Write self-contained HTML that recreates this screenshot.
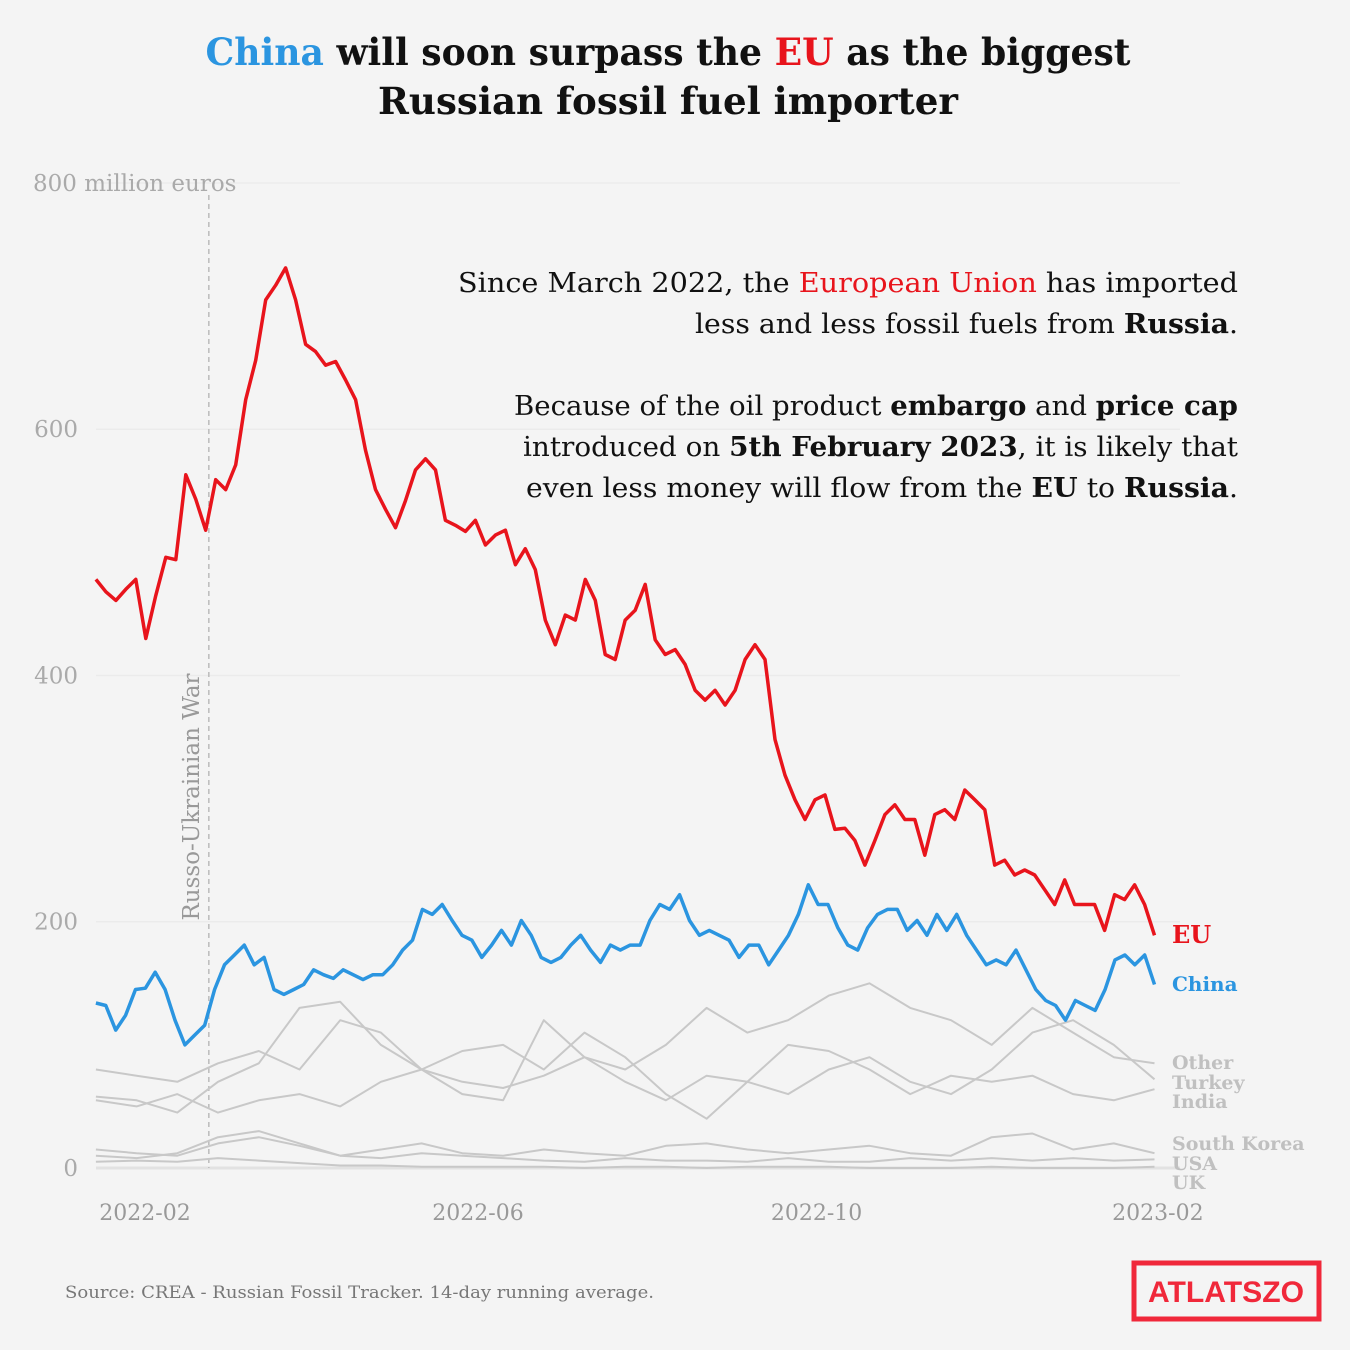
<!DOCTYPE html>
<html><head><meta charset="utf-8">
<style>
html,body{margin:0;padding:0;background:#f4f4f4;}
svg{display:block;font-family:"DejaVu Serif","Liberation Serif",serif;}
</style></head>
<body>
<svg id="chart" width="1350" height="1350" viewBox="0 0 1350 1350">
<rect width="1350" height="1350" fill="#f4f4f4"/>
<text x="668" y="65" text-anchor="middle" font-size="37" font-weight="bold" fill="#111" textLength="925" lengthAdjust="spacingAndGlyphs"><tspan fill="#2b95e0">China</tspan> will soon surpass the <tspan fill="#e8141c">EU</tspan> as the biggest</text>
<text x="668" y="114" text-anchor="middle" font-size="37" font-weight="bold" fill="#111" textLength="580" lengthAdjust="spacingAndGlyphs">Russian fossil fuel importer</text>
<g id="grid"></g>
<g id="yticks"></g>
<g id="xticks"></g>
<line id="warline" stroke="#bbb" stroke-width="1.5" stroke-dasharray="5,4"/>
<text id="warlabel" font-size="23" fill="#999" text-anchor="middle">Russo-Ukrainian War</text>
<g id="series"></g>
<g id="labels"></g>
<g font-size="27" fill="#111" text-anchor="end">
<text x="1238" y="292" textLength="780" lengthAdjust="spacingAndGlyphs">Since March 2022, the <tspan fill="#e8141c">European Union</tspan> has imported</text>
<text x="1238" y="333" textLength="543" lengthAdjust="spacingAndGlyphs">less and less fossil fuels from <tspan font-weight="bold">Russia</tspan>.</text>
<text x="1238" y="415" textLength="724" lengthAdjust="spacingAndGlyphs">Because of the oil product <tspan font-weight="bold">embargo</tspan> and <tspan font-weight="bold">price cap</tspan></text>
<text x="1238" y="456" textLength="715" lengthAdjust="spacingAndGlyphs">introduced on <tspan font-weight="bold">5th February 2023</tspan>, it is likely that</text>
<text x="1238" y="497" textLength="712" lengthAdjust="spacingAndGlyphs">even less money will flow from the <tspan font-weight="bold">EU</tspan> to <tspan font-weight="bold">Russia</tspan>.</text>
</g>
<text x="65" y="1298" font-size="17" fill="#777" textLength="589" lengthAdjust="spacingAndGlyphs">Source: CREA - Russian Fossil Tracker. 14-day running average.</text>
<g>
<rect x="1134" y="1263" width="185" height="56" fill="none" stroke="#f0283a" stroke-width="5"/>
<text x="1226" y="1302" text-anchor="middle" font-family="'Liberation Sans',sans-serif" font-weight="bold" font-size="30" fill="#f0283a" textLength="156" lengthAdjust="spacingAndGlyphs">ATLATSZO</text>
</g>
</svg>
<script>
const yTicks=[0,200,400,600,800];
const xTickLabels=["2022-02","2022-06","2022-10","2023-02"];
const xTickDays=[0,120,242,365];
const warDay=23;
const startDay=-17.7;
const stepDay=3.6;
const euValues=[478,468,461,470,478,430,465,496,494,563,543,518,559,551,571,624,656,705,717,731,705,669,663,652,655,640,624,583,551,535,520,542,567,576,567,526,522,517,526,506,514,518,490,503,486,445,425,449,445,478,461,417,413,445,453,474,429,417,421,409,388,380,388,376,388,413,425,413,348,319,299,283,299,303,275,276,266,246,266,287,295,283,283,254,287,291,283,307,299,291,246,250,238,242,238,226,214,234,214,214,214,193,222,218,230,214,189];
const chinaValues=[134,132,112,124,145,146,159,145,120,100,108,116,145,165,173,181,165,171,145,141,145,149,161,157,154,161,157,153,157,157,165,177,185,210,206,214,201,189,185,171,181,193,181,201,189,171,167,171,181,189,177,167,181,177,181,181,201,214,210,222,201,189,193,189,185,171,181,181,165,177,189,206,230,214,214,195,181,177,195,206,210,210,193,201,189,206,193,206,189,177,165,169,165,177,161,145,136,132,120,136,132,128,145,169,173,165,173,149];
const otherValues=[80,75,70,85,95,80,120,110,80,70,65,75,90,80,100,130,110,120,140,150,130,120,100,130,110,90,85];
const turkeyValues=[58,55,45,70,85,130,135,100,80,60,55,120,90,70,55,75,70,60,80,90,70,60,80,110,120,100,72];
const indiaValues=[55,50,60,45,55,60,50,70,80,95,100,80,110,90,60,40,70,100,95,80,60,75,70,75,60,55,64];
const koreaValues=[15,12,10,20,25,18,10,15,20,12,10,15,12,10,18,20,15,12,15,18,12,10,25,28,15,20,12];
const usaValues=[10,8,12,25,30,20,10,8,12,10,8,6,5,8,6,6,5,8,5,5,8,6,8,6,8,6,7];
const ukValues=[5,6,5,8,6,4,2,2,1,1,1,1,0,1,1,0,1,1,1,0,0,0,1,0,0,0,1];

const NS="http://www.w3.org/2000/svg";
function yScale(v){return 1168-v*1.2313;}
function xScale(d){return 145+d*2.775;}
function mk(tag,attrs,parent){const e=document.createElementNS(NS,tag);for(const k in attrs)e.setAttribute(k,attrs[k]);parent.appendChild(e);return e;}
const grid=document.getElementById('grid'),yt=document.getElementById('yticks'),xt=document.getElementById('xticks');
yTicks.forEach((v,i)=>{
  const l=mk('line',{x1:96,x2:1180,y1:yScale(v),y2:yScale(v),stroke:v===0?'#e2e2e2':'#ebebeb','stroke-width':v===0?3:1.5},grid);
  
  
  const t=mk('text',{x:v===800?33:78,y:yScale(v)+8,'font-size':23,fill:'#aaa','text-anchor':v===800?'start':'end'},yt);
  t.textContent=v===800?'800 million euros':String(v);
  
  
});
xTickLabels.forEach((s,i)=>{
  const t=mk('text',{x:xScale(xTickDays[i]),y:1220,'font-size':22,fill:'#999','text-anchor':'middle'},xt);
  t.textContent=s;
  
  
});
const wl=document.getElementById('warline');
wl.setAttribute('x1',xScale(warDay));wl.setAttribute('x2',xScale(warDay));wl.setAttribute('y1',195);wl.setAttribute('y2',1168);
const wt=document.getElementById('warlabel');
wt.setAttribute('transform','translate('+(xScale(warDay)-10)+',797) rotate(-90)');
const ser=document.getElementById('series');
function drawLine(vals,color,w,name){
  const step=381.5/(vals.length-1);
  const pts=vals.map((v,i)=>xScale(startDay+i*step).toFixed(1)+','+yScale(v).toFixed(1)).join(' ');
  const p=mk('polyline',{points:pts,fill:'none',stroke:color,'stroke-width':w,'stroke-linejoin':'round'},ser);
  
  
}
drawLine(ukValues,'#c8c8c8',2,'line-uk');
drawLine(usaValues,'#c8c8c8',2,'line-usa');
drawLine(koreaValues,'#c8c8c8',2,'line-south-korea');
drawLine(indiaValues,'#c8c8c8',2,'line-india');
drawLine(turkeyValues,'#c8c8c8',2,'line-turkey');
drawLine(otherValues,'#c8c8c8',2,'line-other');
drawLine(chinaValues,'#2b95e0',3.5,'line-china');
drawLine(euValues,'#e8141c',3.5,'line-eu');
const lab=document.getElementById('labels');
const labs=[["EU",943,'#e8141c',24,'bold'],["China",991,'#2b95e0',20,'bold'],["Other",1069,'#c0c0c0',19,'bold'],["Turkey",1089,'#c0c0c0',19,'bold'],["India",1108,'#c0c0c0',19,'bold'],["South Korea",1150,'#c0c0c0',19,'bold'],["USA",1170,'#c0c0c0',19,'bold'],["UK",1189,'#c0c0c0',19,'bold']];
labs.forEach(a=>{
  const t=mk('text',{x:1172,y:a[1],fill:a[2],'font-size':a[3],'font-weight':a[4]},lab);
  t.textContent=a[0];
  
  
});
</script>
</body></html>
